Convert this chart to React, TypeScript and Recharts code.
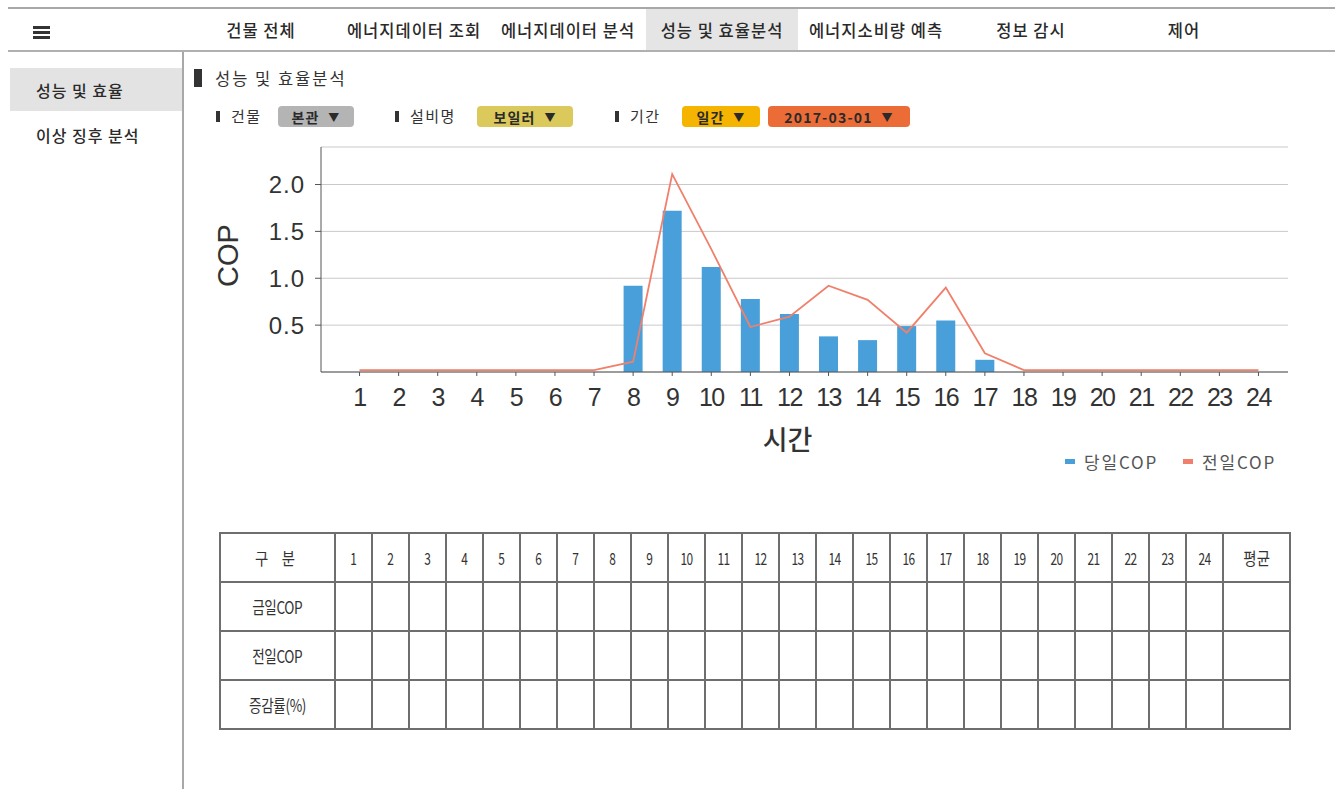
import React from 'react'
import {
  ComposedChart,
  Bar,
  Line,
  XAxis,
  YAxis,
  CartesianGrid,
  Legend
} from 'recharts'

const hours = ['1', '2', '3', '4', '5', '6', '7', '8', '9', '10', '11', '12', '13', '14', '15', '16', '17', '18', '19', '20', '21', '22', '23', '24']
const todayCop = [0, 0, 0, 0, 0, 0, 0, 0.92, 1.72, 1.12, 0.78, 0.62, 0.38, 0.34, 0.49, 0.55, 0.13, 0, 0, 0, 0, 0, 0, 0]
const prevCop = [0.02, 0.02, 0.02, 0.02, 0.02, 0.02, 0.02, 0.11, 2.11, 1.31, 0.48, 0.59, 0.92, 0.77, 0.42, 0.9, 0.2, 0.02, 0.02, 0.02, 0.02, 0.02, 0.02, 0.02]
const yTicks = [0.5, 1.0, 1.5, 2.0]

const navItems = [
  { label: '건물 전체', center: 261 },
  { label: '에너지데이터 조회', center: 414 },
  { label: '에너지데이터 분석', center: 568 },
  { label: '성능 및 효율분석', center: 722 },
  { label: '에너지소비량 예측', center: 876 },
  { label: '정보 감시', center: 1031 },
  { label: '제어', center: 1184 }
]
const sideItems = ['성능 및 효율', '이상 징후 분석']
const tableRows = ['금일COP', '전일COP', '증감률(%)']

const chartData = hours.map((h, i) => ({
  hour: h,
  today: todayCop[i],
  prev: prevCop[i]
}))

const KR = "'Noto Sans CJK KR', 'Noto Sans', sans-serif"
const NUM = "'Liberation Sans', Arial, 'Noto Sans CJK KR', sans-serif"

function Pill({ left, width, bg, text }: { left: number; width: number; bg: string; text: string }) {
  return (
    <div
      style={{
        position: 'absolute', left, top: 106, width, height: 21, background: bg,
        borderRadius: 4, display: 'flex', alignItems: 'center', justifyContent: 'center',
        fontSize: 14, fontWeight: 600, color: '#2a2a2a', letterSpacing: 1.2
      }}
    >
      {text}&nbsp;&nbsp;<span style={{ fontSize: 11 }}>▼</span>
    </div>
  )
}

function FilterLabel({ left, text }: { left: number; text: string }) {
  return (
    <>
      <div style={{ position: 'absolute', left, top: 111, width: 4, height: 11, background: '#333' }} />
      <div style={{ position: 'absolute', left: left + 15, top: 105, fontSize: 15, color: '#333', lineHeight: '22px', letterSpacing: 1.5 }}>{text}</div>
    </>
  )
}

const XLabel = (props: any) => {
  const vb = props.viewBox
  return (
    <text x={vb.x + vb.width / 2 - 17} y={vb.y + 66} textAnchor="middle" dominantBaseline="central"
      fontSize={27} fontWeight={500} fill="#333" fontFamily={KR}>시간</text>
  )
}

const YLabel = (props: any) => {
  const vb = props.viewBox
  const cx = vb.x + 28
  const cy = vb.y + vb.height / 2 - 4
  return (
    <text x={cx} y={cy} textAnchor="middle" dominantBaseline="central" transform={`rotate(-90 ${cx} ${cy})`}
      fontSize={29} fill="#333" fontFamily={NUM}>COP</text>
  )
}

const LegendContent = () => (
  <div style={{ height: 24, display: 'flex', justifyContent: 'flex-end', alignItems: 'center', paddingRight: 12, fontFamily: KR, fontSize: 17, color: '#555', letterSpacing: 1.8 }}>
    <span style={{ display: 'inline-block', width: 10, height: 5, background: '#489fd9', marginRight: 9 }} />
    <span style={{ marginRight: 25 }}>당일COP</span>
    <span style={{ display: 'inline-block', width: 10, height: 5, background: '#f0806c', marginRight: 9 }} />
    <span>전일COP</span>
  </div>
)

export default function App() {
  return (
    <div style={{ position: 'absolute', left: 0, top: 0, width: 1335, height: 789, background: '#fff', overflow: 'hidden', fontFamily: KR }}>
      {/* 상단 메뉴 */}
      <div style={{ position: 'absolute', left: 8, top: 7, width: 1327, height: 2, background: '#a8a8a8' }} />
      <div style={{ position: 'absolute', left: 8, top: 50, width: 1327, height: 2, background: '#b0b0b0' }} />
      <div style={{ position: 'absolute', left: 646, top: 9, width: 152, height: 41, background: '#e5e5e5' }} />
      {[0, 5, 10].map(o => (
        <div key={o} style={{ position: 'absolute', left: 33, top: 26 + o, width: 17, height: 3, background: '#333' }} />
      ))}
      {navItems.map(n => (
        <div key={n.label} style={{ position: 'absolute', left: n.center - 90, width: 180, top: 18, textAlign: 'center', fontSize: 16.5, fontWeight: 500, color: '#2a2a2a', letterSpacing: 1 }}>
          {n.label}
        </div>
      ))}

      {/* 좌측 메뉴 */}
      <div style={{ position: 'absolute', left: 182, top: 52, width: 2, height: 737, background: '#a8a8a8' }} />
      <div style={{ position: 'absolute', left: 10, top: 68, width: 172, height: 43, background: '#e3e3e3' }} />
      {sideItems.map((s, i) => (
        <div key={s} style={{ position: 'absolute', left: 36, top: 78 + i * 45, fontSize: 16, fontWeight: 500, color: '#2a2a2a', letterSpacing: 1 }}>{s}</div>
      ))}

      {/* 제목 및 필터 */}
      <div style={{ position: 'absolute', left: 194, top: 69, width: 8, height: 18, background: '#333' }} />
      <div style={{ position: 'absolute', left: 215, top: 66, fontSize: 16.5, color: '#333', letterSpacing: 2 }}>성능 및 효율분석</div>
      <FilterLabel left={216} text="건물" />
      <Pill left={278} width={76} bg="#b4b4b4" text="본관" />
      <FilterLabel left={395} text="설비명" />
      <Pill left={477} width={96} bg="#dbc95c" text="보일러" />
      <FilterLabel left={615} text="기간" />
      <Pill left={682} width={78} bg="#f5b400" text="일간" />
      <Pill left={768} width={142} bg="#ec6c37" text="2017-03-01" />

      {/* 차트 */}
      <div style={{ position: 'absolute', left: 200, top: 130 }}>
        <ComposedChart width={1100} height={345} data={chartData} margin={{ top: 17, right: 12, left: 0, bottom: 2 }} barSize={19}>
          <CartesianGrid horizontal vertical={false} stroke="#c9c9c9" />
          <XAxis
            dataKey="hour"
            padding={{ left: 19, right: 10 }}
            height={77}
            tickSize={4}
            tickMargin={12}
            interval={0}
            stroke="#555"
            tick={{ fontSize: 25, fill: '#333', fontFamily: NUM, letterSpacing: -1.5 }}
            label={<XLabel />}
          />
          <YAxis
            domain={[0, 2.4]}
            ticks={yTicks}
            width={121}
            tickSize={6}
            tickMargin={10}
            stroke="#555"
            tickFormatter={(v: number) => v.toFixed(1)}
            tick={{ fontSize: 24, fill: '#333', fontFamily: NUM, letterSpacing: 1 }}
            label={<YLabel />}
          />
          <Legend verticalAlign="bottom" align="right" content={<LegendContent />} />
          <Bar dataKey="today" name="당일COP" fill="#489fd9" isAnimationActive={false} />
          <Line dataKey="prev" name="전일COP" type="linear" stroke="#f0806c" strokeWidth={1.8} dot={false} activeDot={false} isAnimationActive={false} />
        </ComposedChart>
      </div>

      {/* 표 */}
      <table style={{ position: 'absolute', left: 219, top: 532, width: 1070, borderCollapse: 'collapse', tableLayout: 'fixed', fontFamily: KR, fontSize: 17, color: '#333' }}>
        <colgroup>
          <col style={{ width: 115 }} />
          {hours.map(h => <col key={h} style={{ width: 37 }} />)}
          <col style={{ width: 67 }} />
        </colgroup>
        <tbody>
          <tr style={{ height: 49 }}>
            <td style={cell}><span style={{ display: 'inline-block', transform: 'scaleX(0.85)', letterSpacing: 6 }}>구 분</span></td>
            {hours.map(h => <td key={h} style={cell}><span style={{ display: 'inline-block', transform: 'scaleX(0.7)', letterSpacing: -1 }}>{h}</span></td>)}
            <td style={cell}><span style={{ display: 'inline-block', transform: 'scaleX(0.85)' }}>평균</span></td>
          </tr>
          {tableRows.map(r => (
            <tr key={r} style={{ height: 49 }}>
              <td style={cell}><span style={{ display: 'inline-block', transform: 'scaleX(0.8)', letterSpacing: -0.5 }}>{r}</span></td>
              {hours.map(h => <td key={h} style={cell} />)}
              <td style={cell} />
            </tr>
          ))}
        </tbody>
      </table>
    </div>
  )
}

const cell: React.CSSProperties = {
  border: '2px solid #6e6e6e',
  textAlign: 'center',
  padding: 0
}
